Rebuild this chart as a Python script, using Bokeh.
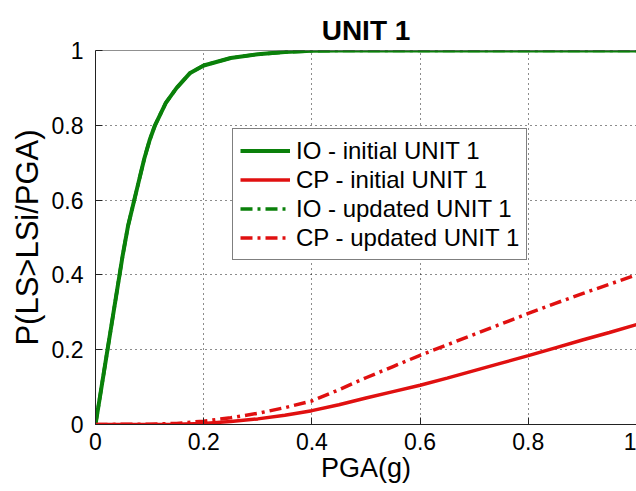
from bokeh.plotting import figure
from bokeh.models import Legend, LegendItem, Span, FixedTicker, Range1d, NumeralTickFormatter
from bokeh.embed import file_html
from bokeh.resources import INLINE

title_text = "UNIT 1"
x_label = "PGA(g)"
y_label = "P(LS>LSi/PGA)"
x_ticks = [0, 0.2, 0.4, 0.6, 0.8, 1]
y_ticks = [0, 0.2, 0.4, 0.6, 0.8, 1]
series_labels = ["IO - initial UNIT 1", "CP - initial UNIT 1",
                 "IO - updated UNIT 1", "CP - updated UNIT 1"]

pga_io = [0, 0.01, 0.02, 0.03, 0.04, 0.05, 0.06, 0.07, 0.08, 0.09, 0.10,
          0.11, 0.12, 0.13, 0.14, 0.15, 0.175, 0.20, 0.25, 0.30, 0.35, 0.40,
          0.45, 0.60, 0.80, 1.0]
p_io_initial = [0, 0.09, 0.18, 0.27, 0.36, 0.45, 0.53, 0.59, 0.65, 0.71, 0.76,
                0.80, 0.83, 0.86, 0.88, 0.90, 0.94, 0.96, 0.98, 0.99, 0.996,
                0.999, 1.0, 1.0, 1.0, 1.0]
p_io_updated = [0, 0.09, 0.18, 0.27, 0.36, 0.45, 0.53, 0.59, 0.65, 0.71, 0.76,
                0.80, 0.83, 0.86, 0.88, 0.90, 0.94, 0.96, 0.98, 0.99, 0.996,
                0.999, 1.0, 1.0, 1.0, 1.0]

pga_cp = [0, 0.1, 0.15, 0.2, 0.25, 0.3, 0.35, 0.4, 0.45, 0.5, 0.55, 0.6,
          0.65, 0.7, 0.75, 0.8, 0.85, 0.9, 0.95, 1.0]
p_cp_initial = [0, 0.0, 0.001, 0.003, 0.008, 0.015, 0.025, 0.037, 0.053, 0.071,
                0.088, 0.105, 0.124, 0.144, 0.164, 0.184, 0.205, 0.226, 0.246, 0.267]
p_cp_updated = [0, 0.001, 0.003, 0.009, 0.018, 0.030, 0.045, 0.063, 0.093, 0.125,
                0.155, 0.185, 0.213, 0.241, 0.269, 0.297, 0.324, 0.350, 0.375, 0.400]

GREEN = "#0a800a"
RED = "#e01010"
FONT = "Liberation Sans"

p = figure(width=636, height=491, output_backend="svg", toolbar_location=None,
           x_range=Range1d(0, 1), y_range=Range1d(0, 1),
           min_border_left=95, min_border_right=0, min_border_top=50,
           min_border_bottom=67, title=title_text)

p.title.align = "center"
p.title.text_font = FONT
p.title.text_font_size = "28px"
p.title.text_font_style = "bold"
p.title.text_color = "black"

r1 = p.line(pga_io, p_io_initial, line_color=GREEN, line_width=4)
r2 = p.line(pga_cp, p_cp_initial, line_color=RED, line_width=3.5)
r3 = p.line(pga_io, p_io_updated, line_color=GREEN, line_width=3.5, line_dash="12 5 3 5")
r4 = p.line(pga_cp, p_cp_updated, line_color=RED, line_width=3.5, line_dash="12 5 3 5")

for ax, ticks in ((p.xaxis[0], x_ticks), (p.yaxis[0], y_ticks)):
    ax.ticker = FixedTicker(ticks=ticks)
    ax.formatter = NumeralTickFormatter(format="0.[0]")
    ax.major_tick_in = 7
    ax.major_tick_out = 0
    ax.minor_tick_line_color = None
    ax.axis_line_color = "#222222"
    ax.major_tick_line_color = "#222222"
    ax.major_label_text_font = FONT
    ax.major_label_text_font_size = "23px"
    ax.major_label_text_color = "black"
    ax.axis_label_text_font = FONT
    ax.axis_label_text_font_style = "normal"
    ax.axis_label_text_color = "black"

p.xaxis.axis_label = x_label
p.yaxis.axis_label = y_label
p.xaxis.axis_label_text_font_size = "27px"
p.yaxis.axis_label_text_font_size = "31px"
p.xaxis.major_label_standoff = 8
p.yaxis.major_label_standoff = 12
p.xaxis.axis_label_standoff = 0
p.yaxis.axis_label_standoff = 4

p.xgrid.ticker = FixedTicker(ticks=x_ticks[1:-1])
p.ygrid.ticker = FixedTicker(ticks=y_ticks[1:-1])
for g in (p.xgrid[0], p.ygrid[0]):
    g.grid_line_color = "black"
    g.grid_line_dash = "1 4"
    g.grid_line_width = 1
    g.grid_line_alpha = 0.9

p.outline_line_color = None
p.add_layout(Span(location=1, dimension="width", line_color="#222222", line_width=1))

legend = Legend(items=[LegendItem(label=series_labels[0], renderers=[r1]),
                       LegendItem(label=series_labels[1], renderers=[r2]),
                       LegendItem(label=series_labels[2], renderers=[r3]),
                       LegendItem(label=series_labels[3], renderers=[r4])],
                location=(137, 164))
legend.label_text_font = FONT
legend.label_text_font_size = "24px"
legend.label_text_color = "black"
legend.glyph_width = 50
legend.glyph_height = 29
legend.label_height = 29
legend.label_standoff = 6
legend.spacing = 0
legend.padding = 7
legend.margin = 0
legend.border_line_color = "black"
legend.border_line_width = 1
legend.background_fill_color = "white"
legend.background_fill_alpha = 1
p.add_layout(legend, "center")

p.background_fill_color = "white"
p.border_fill_color = "white"

open("out.html", "w").write(file_html(p, INLINE))
